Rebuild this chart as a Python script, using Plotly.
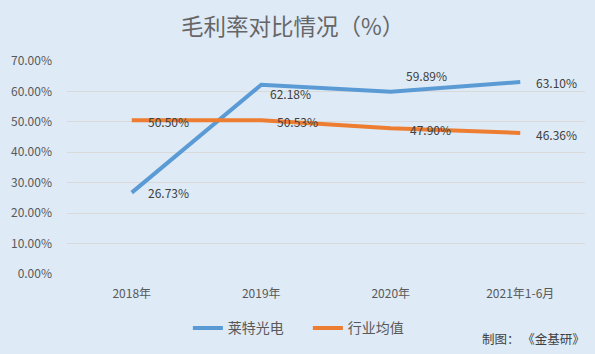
import plotly.graph_objects as go

categories = ["2018年", "2019年", "2020年", "2021年1-6月"]
laite = [26.73, 62.18, 59.89, 63.10]
industry = [50.50, 50.53, 47.90, 46.36]
series_names = ["莱特光电", "行业均值"]

BG = "#DEEAF6"
BLUE = "#5B9BD5"
ORANGE = "#ED7D31"
TXT = "#595959"
FONT = "Noto Sans CJK SC"

fig = go.Figure()
fig.add_trace(go.Scatter(x=categories, y=[v / 100 for v in laite], mode="lines",
                         name=series_names[0], line=dict(color=BLUE, width=4)))
fig.add_trace(go.Scatter(x=categories, y=[v / 100 for v in industry], mode="lines",
                         name=series_names[1], line=dict(color=ORANGE, width=4)))

# label offsets (px) per point
blue_off = [(14, 0), (7, -9), (13, 16), (14, 0)]
orange_off = [(14, -1), (14, -1), (17, -1), (14, -2)]
for vals, offs in ((laite, blue_off), (industry, orange_off)):
    for c, v, (dx, dy) in zip(categories, vals, offs):
        fig.add_annotation(x=c, y=v / 100, text=f"{v:.2f}%", showarrow=False,
                           xanchor="left", yanchor="middle", xshift=dx, yshift=dy,
                           font=dict(family=FONT, size=12, color="#404040"))

fig.add_annotation(xref="paper", yref="paper", x=1.004, y=-0.302, xanchor="right", yanchor="middle",
                   text="制图：&nbsp;《金基研》", showarrow=False,
                   font=dict(family=FONT, size=12.5, color="#404040"))

fig.update_layout(
    width=595, height=354,
    paper_bgcolor=BG, plot_bgcolor=BG,
    margin=dict(l=67, r=10, t=61, b=76),
    title=dict(text="毛利率对比情况（%）", x=0.492, xanchor="center", y=0.924, yanchor="middle",
               font=dict(family=FONT, size=22.5, color="#666666")),
    font=dict(family=FONT, size=12, color=TXT),
    showlegend=True,
    legend=dict(orientation="h", x=0.465, xanchor="center", y=-0.255, yanchor="middle",
                entrywidth=75, entrywidthmode="pixels",
                font=dict(family=FONT, size=14, color=TXT), bgcolor="rgba(0,0,0,0)"),
    xaxis=dict(type="category", range=[-0.5, 3.5], showgrid=False, zeroline=False,
               showline=False, ticks="", ticklabelstandoff=11, tickfont=dict(size=12, color=TXT)),
    yaxis=dict(range=[0, 0.7], dtick=0.1, tickformat=".2%", showgrid=True,
               gridcolor="#D9D9D9", gridwidth=1, zeroline=False, showline=False,
               ticks="", ticklen=0, ticklabelstandoff=14, tickfont=dict(size=12, color=TXT)),
)

fig.write_html("out.html")
